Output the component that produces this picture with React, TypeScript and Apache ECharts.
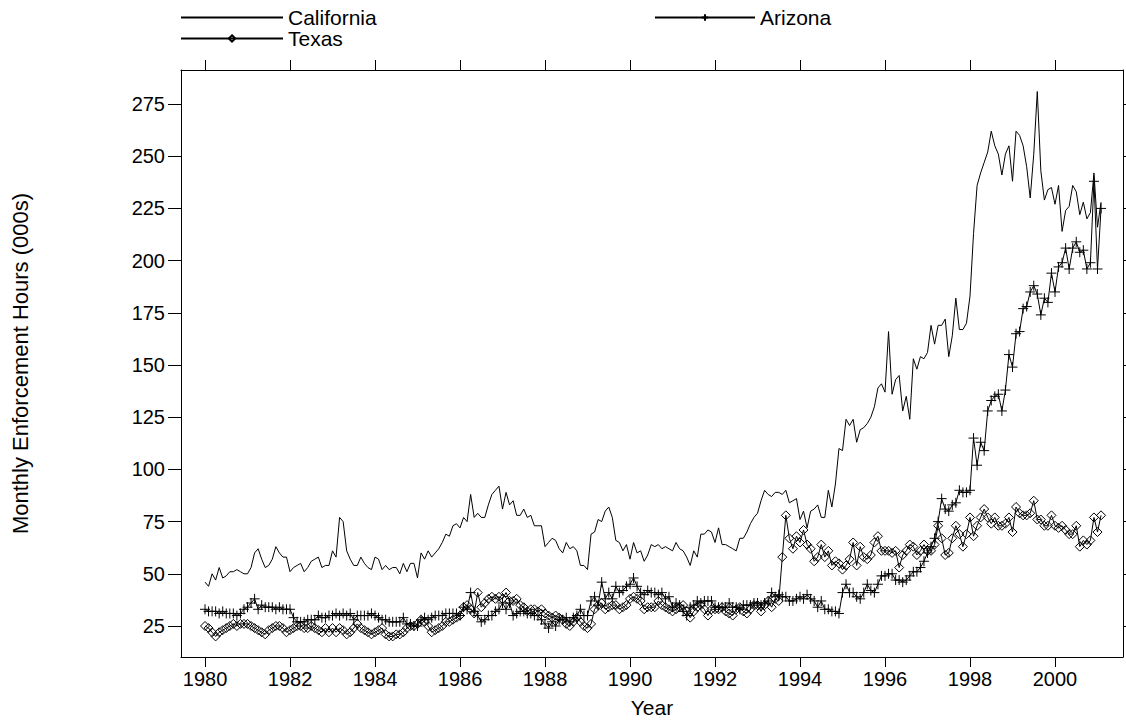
import React, { useEffect, useRef } from "react";
import * as echarts from "echarts";

// Monthly values, January 1980 to February 2001 (one row per year)
const CALIFORNIA: number[] = [
  46, 44, 50, 47, 53, 48, 49, 51, 51, 52, 51, 50,
  50, 53, 60, 62, 57, 53, 54, 57, 63, 60, 58, 58,
  51, 53, 54, 55, 51, 53, 56, 57, 58, 53, 54, 54,
  61, 58, 77, 75, 61, 57, 54, 54, 58, 55, 53, 52,
  58, 57, 52, 54, 52, 53, 53, 50, 55, 51, 55, 55,
  48, 60, 57, 61, 58, 60, 62, 65, 69, 68, 73, 74,
  72, 77, 75, 88, 77, 79, 77, 77, 83, 88, 90, 92,
  81, 89, 83, 85, 78, 78, 81, 77, 78, 73, 73, 73,
  63, 65, 67, 66, 62, 60, 65, 62, 63, 61, 54, 54,
  52, 69, 70, 76, 75, 80, 82, 77, 66, 65, 61, 64,
  57, 65, 60, 61, 56, 59, 64, 63, 64, 62, 63, 62,
  61, 65, 62, 61, 58, 54, 61, 58, 69, 69, 71, 70,
  65, 72, 64, 64, 63, 62, 61, 67, 67, 70, 74, 77,
  79, 85, 90, 88, 87, 89, 89, 88, 90, 84, 85, 86,
  76, 80, 72, 80, 81, 83, 77, 77, 90, 82, 93, 110,
  109, 124, 121, 124, 113, 119, 120, 122, 125, 130, 139, 141,
  137, 166, 136, 143, 145, 128, 135, 124, 153, 148, 154, 153,
  156, 169, 160, 169, 169, 172, 154, 164, 182, 167, 167, 170,
  183, 213, 236, 242, 247, 252, 262, 255, 251, 241, 251, 255,
  238, 262, 260, 255, 245, 230, 251, 281, 243, 229, 234, 235,
  227, 236, 214, 224, 226, 236, 233, 222, 228, 220, 223, 242,
  216, 228,
];

const ARIZONA: number[] = [
  33, 32, 32, 32, 31, 32, 31, 31, 31, 30, 31, 33,
  34, 36, 38, 33, 35, 34, 34, 34, 33, 34, 33, 33,
  33, 29, 27, 27, 27, 28, 28, 28, 30, 29, 29, 30,
  30, 31, 30, 31, 30, 31, 28, 30, 30, 30, 30, 31,
  30, 29, 28, 28, 27, 27, 27, 27, 29, 26, 26, 25,
  25, 28, 29, 28, 29, 30, 30, 30, 31, 31, 31, 31,
  30, 34, 33, 41, 32, 30, 27, 28, 30, 30, 32, 33,
  36, 33, 36, 30, 31, 32, 32, 31, 31, 30, 30, 28,
  26, 24, 27, 25, 28, 28, 29, 27, 29, 30, 33, 30,
  30, 37, 39, 35, 46, 38, 41, 38, 44, 41, 42, 44,
  45, 48, 44, 41, 40, 42, 41, 41, 40, 41, 38, 39,
  34, 36, 35, 32, 30, 34, 35, 37, 36, 37, 37, 37,
  34, 34, 34, 34, 36, 34, 34, 33, 35, 35, 35, 36,
  36, 35, 36, 37, 41, 39, 40, 39, 39, 37, 37, 38,
  39, 38, 40, 38, 37, 34, 37, 33, 33, 32, 32, 31,
  41, 45, 41, 41, 39, 38, 41, 45, 42, 41, 45, 49,
  49, 50, 50, 47, 47, 46, 47, 49, 51, 51, 53, 56,
  60, 63, 67, 75, 86, 81, 80, 83, 84, 90, 89, 89,
  90, 115, 102, 113, 109, 128, 133, 135, 136, 128, 138, 155,
  149, 165, 166, 177, 178, 185, 188, 184, 174, 182, 180, 194,
  185, 197, 199, 206, 196, 206, 209, 204, 205, 196, 199, 238,
  196, 225,
];

const TEXAS: number[] = [
  25, 24, 22, 20, 22, 23, 24, 25, 26, 25, 26, 26,
  26, 25, 24, 23, 22, 21, 23, 24, 25, 25, 24, 22,
  23, 24, 25, 25, 24, 24, 25, 24, 23, 22, 24, 22,
  24, 22, 24, 23, 21, 22, 24, 26, 24, 23, 22, 21,
  22, 23, 24, 21, 20, 20, 21, 21, 22, 24, 25, 25,
  26, 28, 27, 25, 22, 23, 24, 25, 27, 27, 28, 29,
  30, 34, 35, 33, 31, 41, 34, 36, 38, 39, 38, 39,
  38, 41, 37, 37, 38, 35, 34, 32, 33, 33, 32, 33,
  31, 30, 29, 30, 29, 28, 26, 25, 27, 29, 27, 25,
  24, 26, 33, 35, 36, 33, 34, 35, 35, 33, 34, 35,
  38, 39, 38, 37, 33, 34, 34, 34, 37, 35, 34, 33,
  32, 33, 34, 35, 32, 29, 32, 34, 35, 33, 30, 33,
  33, 33, 34, 32, 31, 30, 33, 34, 32, 31, 33, 35,
  35, 32, 35, 37, 34, 38, 37, 58, 78, 67, 62, 68,
  65, 71, 64, 62, 56, 58, 64, 58, 61, 54, 56, 55,
  52, 54, 57, 65, 54, 63, 58, 57, 59, 65, 68, 61,
  61, 61, 60, 61, 53, 59, 61, 64, 63, 59, 61, 64,
  61, 61, 64, 73, 67, 59, 60, 67, 73, 69, 63, 69,
  77, 68, 73, 77, 81, 77, 74, 77, 73, 73, 74, 77,
  70, 82, 79, 78, 78, 79, 85, 76, 76, 73, 73, 78,
  73, 72, 73, 71, 69, 69, 73, 63, 66, 64, 66, 77,
  70, 78,
];

const START_YEAR = 1980;
const X_TICKS: number[] = [1980, 1982, 1984, 1986, 1988, 1990, 1992, 1994, 1996, 1998, 2000];
const Y_TICKS: number[] = [25, 50, 75, 100, 125, 150, 175, 200, 225, 250, 275];

const FONT = "'Liberation Sans', Arial, Helvetica, sans-serif";
const X_MIN = 1979.435;
const X_MAX = 2001.6;
const Y_MIN = 10.15;
const Y_MAX = 291.3;

export default function App() {
  const ref = useRef<HTMLDivElement>(null);

  useEffect(() => {
    if (!ref.current) return;
    const chart = echarts.init(ref.current, null, { renderer: "svg" });
    const toPts = (arr: number[]) => arr.map((v, i) => [START_YEAR + i / 12, v]);
    const black = "#000";
    const axisLine = { show: true, lineStyle: { color: black, width: 1 } };
    const legendText = { fontSize: 21, lineHeight: 20, color: black, fontFamily: FONT };

    chart.setOption({
      animation: false,
      backgroundColor: "#fff",
      textStyle: { fontFamily: FONT, color: black },
      grid: { left: 181, right: 3, top: 70, bottom: 66 },
      legend: [
        {
          data: [{ name: "California", itemStyle: { color: "transparent", borderWidth: 0, opacity: 0 } }],
          left: 180,
          top: 7,
          padding: 0,
          itemWidth: 102,
          itemHeight: 8,
          itemGap: 0,
          textStyle: legendText,
        },
        {
          data: ["Arizona"],
          left: 654,
          top: 7,
          padding: 0,
          itemWidth: 100,
          itemHeight: 8,
          itemGap: 0,
          textStyle: legendText,
        },
        {
          data: ["Texas"],
          left: 180,
          top: 28,
          padding: 0,
          itemWidth: 102,
          itemHeight: 8,
          itemGap: 0,
          textStyle: legendText,
        },
      ],
      xAxis: [
        {
          type: "value",
          position: "bottom",
          min: X_MIN,
          max: X_MAX,
          name: "Year",
          nameLocation: "middle",
          nameGap: 40,
          nameTextStyle: { fontSize: 21, color: black, fontFamily: FONT },
          axisLine,
          axisTick: { show: true, inside: false, length: 10, customValues: X_TICKS, lineStyle: { color: black } },
          axisLabel: {
            customValues: X_TICKS,
            fontSize: 20,
            color: black,
            margin: 12,
            fontFamily: FONT,
            formatter: (v: number) => String(Math.round(v)),
          },
          splitLine: { show: false },
        },
        {
          type: "value",
          position: "top",
          min: X_MIN,
          max: X_MAX,
          axisLine,
          axisTick: { show: true, inside: false, length: 10, customValues: X_TICKS, lineStyle: { color: black } },
          axisLabel: { show: false },
          splitLine: { show: false },
        },
      ],
      yAxis: [
        {
          type: "value",
          position: "left",
          min: Y_MIN,
          max: Y_MAX,
          name: "Monthly Enforcement Hours (000s)",
          nameLocation: "middle",
          nameRotate: 90,
          nameGap: 150,
          nameTextStyle: { fontSize: 22, color: black, fontFamily: FONT },
          axisLine,
          axisTick: { show: true, inside: false, length: 13, customValues: Y_TICKS, lineStyle: { color: black } },
          axisLabel: {
            customValues: Y_TICKS,
            fontSize: 20,
            color: black,
            margin: 16,
            fontFamily: FONT,
            formatter: (v: number) => String(Math.round(v)),
          },
          splitLine: { show: false },
        },
        {
          type: "value",
          position: "right",
          min: Y_MIN,
          max: Y_MAX,
          axisLine,
          axisTick: { show: true, inside: false, length: 10, customValues: Y_TICKS, lineStyle: { color: black } },
          axisLabel: { show: false },
          splitLine: { show: false },
        },
      ],
      series: [
        {
          name: "California",
          type: "line",
          xAxisIndex: 0,
          yAxisIndex: 0,
          data: toPts(CALIFORNIA),
          symbol: "none",
          lineStyle: { color: black, width: 1 },
          itemStyle: { color: black },
          z: 3,
        },
        {
          name: "Arizona",
          type: "line",
          xAxisIndex: 0,
          yAxisIndex: 0,
          data: toPts(ARIZONA),
          symbol: "path://M0,5L10,5M5,0L5,10",
          symbolSize: 10,
          showSymbol: true,
          lineStyle: { color: black, width: 1 },
          itemStyle: { color: "none", borderColor: black, borderWidth: 1 },
          z: 2,
        },
        {
          name: "Texas",
          type: "line",
          xAxisIndex: 0,
          yAxisIndex: 0,
          data: toPts(TEXAS),
          symbol: "diamond",
          symbolSize: 9,
          showSymbol: true,
          lineStyle: { color: black, width: 1 },
          itemStyle: { color: "none", borderColor: black, borderWidth: 1 },
          z: 2,
        },
      ],
    });

    return () => chart.dispose();
  }, []);

  return (
    <div
      ref={ref}
      style={{ position: "fixed", left: 0, top: 0, width: 1126, height: 723, background: "#fff" }}
    />
  );
}
